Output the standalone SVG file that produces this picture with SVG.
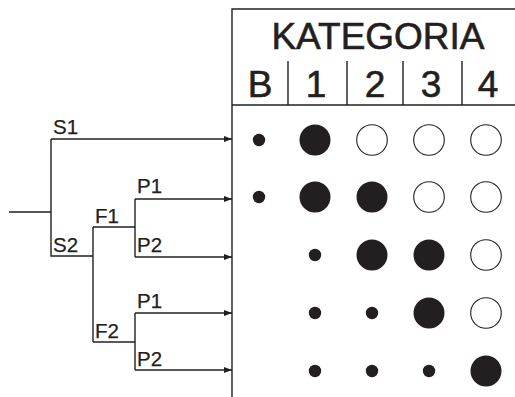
<svg xmlns="http://www.w3.org/2000/svg" width="515" height="397" viewBox="0 0 515 397">
<defs>
<marker id="ah" viewBox="0 0 8 6" refX="8" refY="3" markerWidth="8" markerHeight="6" markerUnits="userSpaceOnUse" orient="auto">
<path d="M0,0 L8,3 L0,6 Z" fill="#231f20"/>
</marker>
</defs>
<style>
.ln{stroke:#231f20;stroke-width:1.4;fill:none}
.lbl{font-family:"Liberation Sans",Arial,sans-serif;font-size:20.5px;fill:#231f20;stroke:#231f20;stroke-width:0.25}
.hd{font-family:"Liberation Sans",Arial,sans-serif;font-size:37px;fill:#231f20;text-anchor:middle;stroke:#231f20;stroke-width:0.6}
.big{fill:#231f20}
.open{fill:#fff;stroke:#231f20;stroke-width:1.1}
.sm{fill:#231f20}
</style>
<rect width="515" height="397" fill="#fff"/>
<g id="table">
<path class="ln" d="M515,9 H232 V397"/>
<path class="ln" d="M232,105 H515"/>
<path class="ln" d="M288,61 V105 M347,61 V105 M403,61 V105 M462,61 V105"/>
<text class="hd" x="378" y="49">KATEGORIA</text>
<text class="hd" x="260" y="97">B</text>
<text class="hd" x="316" y="97">1</text>
<text class="hd" x="375" y="97">2</text>
<text class="hd" x="431" y="97">3</text>
<text class="hd" x="488" y="97">4</text>
</g>
<g id="connectors">
<path class="ln" d="M9,212 H51"/>
<path class="ln" d="M51,139 V256 H93"/>
<path class="ln" d="M93,227 V342"/>
<path class="ln" d="M93,227 H135"/>
<path class="ln" d="M93,342 H135"/>
<path class="ln" d="M135,199 V257"/>
<path class="ln" d="M135,313 V370"/>
<path class="ln" marker-end="url(#ah)" d="M51,139 H232"/>
<path class="ln" marker-end="url(#ah)" d="M135,199 H232"/>
<path class="ln" marker-end="url(#ah)" d="M135,257 H232"/>
<path class="ln" marker-end="url(#ah)" d="M135,313 H232"/>
<path class="ln" marker-end="url(#ah)" d="M135,370 H232"/>
</g>
<g id="labels">
<text class="lbl" x="53" y="134">S1</text>
<text class="lbl" x="53" y="252">S2</text>
<text class="lbl" x="95" y="223">F1</text>
<text class="lbl" x="95" y="338">F2</text>
<text class="lbl" x="137" y="193">P1</text>
<text class="lbl" x="137" y="252">P2</text>
<text class="lbl" x="137" y="308">P1</text>
<text class="lbl" x="137" y="366">P2</text>
</g>
<g id="row1">
<circle class="sm" cx="259" cy="140" r="6.2"/>
<circle class="big" cx="315" cy="140" r="15.5"/>
<circle class="open" cx="372" cy="140" r="15.3"/>
<circle class="open" cx="429" cy="140" r="15.3"/>
<circle class="open" cx="486" cy="140" r="15.3"/>
</g>
<g id="row2">
<circle class="sm" cx="259" cy="197" r="6.2"/>
<circle class="big" cx="315" cy="197" r="15.5"/>
<circle class="big" cx="372" cy="197" r="15.5"/>
<circle class="open" cx="429" cy="197" r="15.3"/>
<circle class="open" cx="486" cy="197" r="15.3"/>
</g>
<g id="row3">
<circle class="sm" cx="315" cy="255" r="6.2"/>
<circle class="big" cx="372" cy="255" r="15.5"/>
<circle class="big" cx="429" cy="255" r="15.5"/>
<circle class="open" cx="486" cy="255" r="15.3"/>
</g>
<g id="row4">
<circle class="sm" cx="315" cy="313" r="6.2"/>
<circle class="sm" cx="372" cy="313" r="6.2"/>
<circle class="big" cx="429" cy="313" r="15.5"/>
<circle class="open" cx="486" cy="313" r="15.3"/>
</g>
<g id="row5">
<circle class="sm" cx="315" cy="371" r="6.2"/>
<circle class="sm" cx="372" cy="371" r="6.2"/>
<circle class="sm" cx="429" cy="371" r="6.2"/>
<circle class="big" cx="486" cy="371" r="15.5"/>
</g>
</svg>
